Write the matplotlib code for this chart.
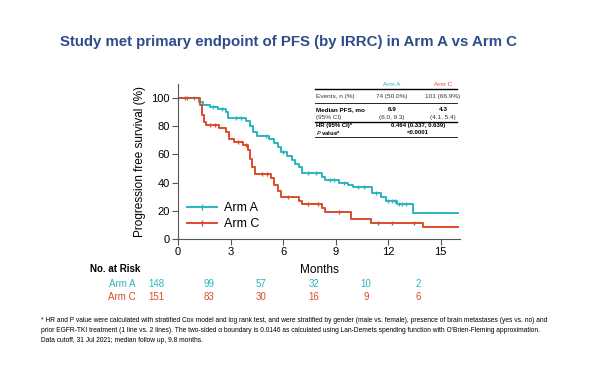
import numpy as np
import matplotlib
matplotlib.use("Agg")
import matplotlib.pyplot as plt
import matplotlib.transforms as mtransforms
from matplotlib.lines import Line2D

# ---------------- data ----------------
arm_a_t = [0, 1.2, 1.4, 1.8, 2.3, 2.75, 2.85, 3.9, 4.1, 4.3, 4.5, 5.2, 5.5, 5.7, 5.9,
           6.2, 6.5, 6.7, 6.9, 7.1, 8.2, 8.4, 9.2, 9.7, 10.0, 11.1, 11.6, 11.9, 12.5, 13.4, 16.0]
arm_a_s = [100, 97, 95, 94, 92, 90, 86, 84, 80, 76, 73, 71, 68, 65, 62,
           59, 56, 53, 51, 47, 44, 42, 40, 38, 37, 33, 30, 27, 25, 18.5, 18.5]
arm_c_t = [0, 1.26, 1.35, 1.5, 1.6, 2.35, 2.75, 2.9, 3.2, 3.7, 4.0, 4.1, 4.25, 4.4,
           5.3, 5.5, 5.7, 5.9, 6.9, 7.1, 8.2, 8.4, 9.9, 11.0, 14.0, 16.0]
arm_c_s = [100, 95, 88, 83, 81, 79, 76, 71, 69, 67, 63, 57, 51, 46,
           43, 38, 34, 30, 27, 25, 22, 19, 14.5, 11.7, 8.7, 8.7]
cens_a = [0.5, 0.9, 2.0, 2.5, 3.3, 3.6, 5.0, 6.0, 7.4, 7.9, 8.7, 8.9, 9.5,
          10.3, 10.6, 11.3, 12.0, 12.2, 12.4, 12.6, 12.8, 13.0]
cens_c = [0.4, 1.8, 2.1, 3.4, 3.9, 4.8, 5.1, 6.3, 7.4, 8.0, 9.2, 11.4, 12.2, 13.5]

risk_times = [0, 3, 6, 9, 12, 15]
risk_a = [148, 99, 57, 32, 10, 2]
risk_c = [151, 83, 30, 16, 9, 6]

arm_labels = ["Arm A", "Arm C"]
x_ticks = [0, 3, 6, 9, 12, 15]
y_ticks = [0, 20, 40, 60, 80, 100]

title = "Study met primary endpoint of PFS (by IRRC) in Arm A vs Arm C"
foot1 = ("* HR and P value were calculated with stratified Cox model and log rank test, and were stratified by gender (male vs. female), presence of brain metastases (yes vs. no) and")
foot2 = ("prior EGFR-TKI treatment (1 line vs. 2 lines). The two-sided \u03b1 boundary is 0.0146 as calculated using Lan-Demets spending function with O'Brien-Fleming approximation.")
foot3 = "Data cutoff, 31 Jul 2021; median follow up, 9.8 months."

TEAL = "#2bb6bc"
RED = "#dc4b2b"
NAVY = "#2f4b8c"

plt.rcParams['font.family'] = ['Liberation Sans', 'DejaVu Sans']

fig = plt.figure(figsize=(6.0, 3.65), dpi=100)
W, H = 600.0, 365.0
def fx(px): return px / W
def fy(py): return 1 - py / H

ax = fig.add_axes([fx(178), fy(239), fx(460) - fx(178), fy(84) - fy(239)])

def step_val(ts, ss, t):
    i = np.searchsorted(ts, t, side='right') - 1
    return ss[i]

for ts, ss, cs, col, lab in [(arm_a_t, arm_a_s, cens_a, TEAL, arm_labels[0]),
                              (arm_c_t, arm_c_s, cens_c, RED, arm_labels[1])]:
    ax.step(ts, ss, where='post', color=col, lw=1.4)
    cy = [step_val(ts, ss, c) for c in cs]
    ax.plot(cs, cy, linestyle='none', marker='|', color=col, ms=3.5, mew=1.0)

ax.set_xlim(0, 16.1)
ax.set_ylim(0, 110)
ax.set_xticks(x_ticks)
ax.set_yticks(y_ticks)
for s in ['top', 'right']:
    ax.spines[s].set_visible(False)
for s in ['left', 'bottom']:
    ax.spines[s].set_color('#555555')
    ax.spines[s].set_linewidth(0.8)
ax.tick_params(axis='both', labelsize=8, direction='out', length=4, width=0.8,
               color='#555555', pad=2)
ax.set_ylabel("Progression free survival (%)", fontsize=8.5, labelpad=4)
ax.set_xlabel("Months", fontsize=8.5, labelpad=5)

handles = [Line2D([0], [0], color=TEAL, lw=1.4, marker='|', ms=4, mew=1.0),
           Line2D([0], [0], color=RED, lw=1.4, marker='|', ms=4, mew=1.0)]
ax.legend(handles, arm_labels, loc='lower left', bbox_to_anchor=(0.0, 0.0),
          frameon=False, fontsize=9, handlelength=2.4, handletextpad=0.6,
          labelspacing=0.35, borderaxespad=0.3)

# title
fig.text(fx(288), fy(42), title, ha='center', va='center', fontsize=10.8,
         fontweight='bold', color=NAVY)

# risk table
blend = mtransforms.blended_transform_factory(ax.transData, fig.transFigure)
shift = mtransforms.offset_copy(blend, fig=fig, x=-22, y=0, units='dots')
fig.text(fx(90), fy(269), "No. at Risk", fontsize=7, fontweight='bold', ha='left', va='center')
fig.text(fx(136), fy(284), arm_labels[0], fontsize=7, color=TEAL, ha='right', va='center')
fig.text(fx(136), fy(297), arm_labels[1], fontsize=7, color=RED, ha='right', va='center')
for t, a, c in zip(risk_times, risk_a, risk_c):
    fig.text(t, fy(284), str(a), transform=shift, fontsize=7, color=TEAL, ha='center', va='center')
    fig.text(t, fy(297), str(c), transform=shift, fontsize=7, color=RED, ha='center', va='center')

# summary table (upper right)
tfs = 4.6
sfs = 4.3
fig.text(fx(392), fy(85), "Arm A", color=TEAL, fontsize=tfs, ha='center', va='center')
fig.text(fx(443), fy(85), "Arm C", color=RED, fontsize=tfs, ha='center', va='center')
for py, lw in [(88.5, 1.0), (103, 0.6), (121.5, 1.0), (137.0, 0.6)]:
    fig.add_artist(Line2D([fx(315), fx(457)], [fy(py), fy(py)], color='black', lw=lw,
                          transform=fig.transFigure))
fig.text(fx(316), fy(96.5), "Events, n (%)", fontsize=tfs, ha='left', va='center', color='#333333')
fig.text(fx(392), fy(96.5), "74 (50.0%)", fontsize=tfs, ha='center', va='center', color='#333333')
fig.text(fx(443), fy(96.5), "101 (66.9%)", fontsize=tfs, ha='center', va='center', color='#333333')
fig.text(fx(316), fy(109.3), "Median PFS, mo", fontsize=tfs, fontweight='bold', ha='left', va='center')
fig.text(fx(316), fy(117.2), "(95% CI)", fontsize=tfs, ha='left', va='center', color='#333333')
fig.text(fx(392), fy(109.3), "6.9", fontsize=tfs, fontweight='bold', ha='center', va='center')
fig.text(fx(392), fy(117.2), "(6.0, 9.3)", fontsize=tfs, ha='center', va='center', color='#333333')
fig.text(fx(443), fy(109.3), "4.3", fontsize=tfs, fontweight='bold', ha='center', va='center')
fig.text(fx(443), fy(117.2), "(4.1, 5.4)", fontsize=tfs, ha='center', va='center', color='#333333')
fig.text(fx(316), fy(125.8), "HR (95% CI)*", fontsize=sfs, fontweight='bold', ha='left', va='center')
fig.text(fx(418), fy(125.8), "0.464 (0.337, 0.639)", fontsize=sfs, fontweight='bold', ha='center', va='center')
fig.text(fx(316), fy(133.0), r"$\mathit{P}$ value*", fontsize=sfs, fontweight='bold', ha='left', va='center')
fig.text(fx(418), fy(133.0), "<0.0001", fontsize=sfs, fontweight='bold', ha='center', va='center')

# footnotes
ffs = 4.75
fig.text(fx(41), fy(321), foot1, fontsize=ffs, ha='left', va='center')
fig.text(fx(41), fy(330.5), foot2, fontsize=ffs, ha='left', va='center')
fig.text(fx(41), fy(341), foot3, fontsize=ffs, ha='left', va='center')

fig.savefig("out.png", dpi=100)
